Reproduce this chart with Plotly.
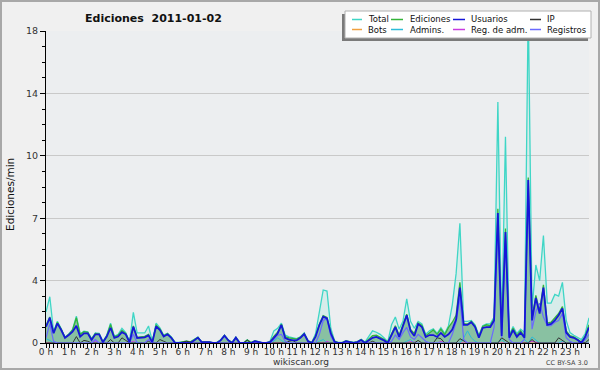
import pandas as pd
import plotly.graph_objects as go

# ---------------- data (edits per minute, 10-minute buckets, 2011-01-02) ----------------
TIMES = pd.date_range("2011-01-02 00:00", periods=144, freq="10min")

TOTAL = [
    1.80, 2.67, 0.65, 1.25, 0.82, 0.35, 0.52, 0.78, 1.55, 0.52, 0.68, 0.65,
    0.25, 0.58, 0.55, 0.08, 0.45, 1.15, 0.38, 0.50, 0.85, 0.60, 0.08, 1.77,
    0.58, 0.58, 0.58, 0.98, 0.10, 1.15, 0.88, 0.45, 0.56, 0.35, 0.03, 0.03,
    0.06, 0.11, 0.07, 0.19, 0.34, 0.07, 0.07, 0.07, 0.01, 0.03, 0.18, 0.45,
    0.18, 0.03, 0.34, 0.03, 0.01, 0.18, 0.03, 0.13, 0.08, 0.01, 0.01, 0.10,
    0.70, 0.85, 1.15, 0.45, 0.35, 0.30, 0.25, 0.36, 0.58, 0.14, 0.03, 0.55,
    1.71, 3.06, 3.00, 0.85, 0.12, 0.03, 0.03, 0.14, 0.08, 0.03, 0.08, 0.22,
    0.05, 0.40, 0.70, 0.62, 0.50, 0.30, 0.07, 1.05, 1.50, 0.80, 1.25, 2.55,
    1.25, 0.85, 1.25, 1.10, 0.50, 0.70, 0.82, 0.55, 0.88, 0.55, 1.00, 2.20,
    4.00, 6.90, 1.25, 1.25, 1.30, 1.05, 0.45, 1.00, 1.10, 1.10, 1.50, 13.90,
    0.80, 11.90, 0.45, 0.95, 0.55, 0.80, 0.60, 19.50, 2.00, 4.50, 3.60, 6.20,
    2.30, 2.30, 2.80, 2.70, 3.50, 1.30, 0.60, 0.45, 0.30, 0.20, 0.55, 1.45,
]

EDICIONES = [
    1.00, 1.50, 0.60, 1.20, 0.80, 0.32, 0.50, 0.75, 1.46, 0.50, 0.65, 0.62,
    0.22, 0.55, 0.52, 0.06, 0.42, 1.07, 0.35, 0.45, 0.72, 0.55, 0.06, 0.98,
    0.32, 0.34, 0.38, 0.50, 0.06, 1.02, 0.82, 0.42, 0.54, 0.32, 0.02, 0.02,
    0.05, 0.10, 0.06, 0.18, 0.33, 0.06, 0.06, 0.06, 0.00, 0.02, 0.17, 0.44,
    0.17, 0.02, 0.33, 0.02, 0.00, 0.17, 0.02, 0.12, 0.07, 0.00, 0.00, 0.08,
    0.38, 0.62, 1.08, 0.35, 0.30, 0.28, 0.22, 0.34, 0.55, 0.12, 0.02, 0.42,
    1.10, 1.58, 1.48, 0.62, 0.10, 0.02, 0.02, 0.12, 0.07, 0.02, 0.07, 0.20,
    0.02, 0.25, 0.42, 0.45, 0.34, 0.22, 0.05, 0.58, 1.00, 0.45, 1.08, 1.66,
    0.78, 0.55, 1.15, 1.02, 0.42, 0.60, 0.75, 0.50, 0.80, 0.48, 0.90, 1.20,
    1.60, 3.50, 1.12, 1.10, 1.25, 0.98, 0.38, 0.95, 1.05, 1.00, 1.40, 7.75,
    0.50, 6.60, 0.38, 0.85, 0.45, 0.70, 0.40, 9.55, 1.45, 2.75, 1.85, 3.35,
    1.15, 1.20, 1.42, 1.70, 2.10, 0.70, 0.42, 0.36, 0.22, 0.05, 0.40, 1.05,
]

USUARIOS = [
    0.94, 1.46, 0.56, 1.13, 0.75, 0.29, 0.46, 0.65, 0.99, 0.37, 0.56, 0.56,
    0.17, 0.50, 0.50, 0.04, 0.37, 0.88, 0.29, 0.37, 0.62, 0.50, 0.04, 0.94,
    0.29, 0.29, 0.33, 0.44, 0.04, 0.96, 0.75, 0.37, 0.50, 0.29, 0.00, 0.00,
    0.00, 0.00, 0.00, 0.15, 0.31, 0.05, 0.05, 0.05, 0.00, 0.00, 0.15, 0.42,
    0.15, 0.00, 0.31, 0.00, 0.00, 0.00, 0.00, 0.10, 0.05, 0.00, 0.00, 0.05,
    0.30, 0.55, 1.04, 0.29, 0.20, 0.15, 0.15, 0.30, 0.52, 0.10, 0.00, 0.37,
    1.04, 1.52, 1.42, 0.56, 0.07, 0.00, 0.00, 0.10, 0.05, 0.00, 0.05, 0.17,
    0.00, 0.15, 0.30, 0.35, 0.25, 0.15, 0.00, 0.50, 0.92, 0.35, 1.00, 1.60,
    0.70, 0.40, 1.10, 0.92, 0.35, 0.46, 0.46, 0.35, 0.58, 0.35, 0.50, 0.77,
    1.35, 3.20, 1.04, 1.04, 1.20, 0.92, 0.30, 0.87, 0.92, 0.92, 1.30, 7.50,
    0.40, 6.40, 0.30, 0.75, 0.35, 0.60, 0.30, 9.40, 1.30, 2.60, 1.70, 3.20,
    1.04, 1.10, 1.30, 1.60, 2.00, 0.60, 0.35, 0.30, 0.17, 0.00, 0.35, 0.90,
]

IP = [
    0, 0, 0, 0, 0, 0, 0, 0, 0.37, 0, 0.15, 0.10,
    0, 0, 0, 0, 0, 0.20, 0, 0, 0.30, 0.15, 0, 0,
    0, 0, 0, 0.10, 0, 0, 0.20, 0.10, 0, 0, 0, 0,
    0.05, 0.10, 0.05, 0, 0, 0, 0, 0, 0, 0, 0, 0,
    0, 0, 0, 0, 0, 0.17, 0, 0, 0, 0, 0, 0,
    0, 0, 0, 0, 0.10, 0.15, 0, 0, 0, 0, 0, 0,
    0, 0, 0, 0, 0, 0, 0, 0, 0, 0, 0, 0,
    0, 0, 0.10, 0, 0, 0, 0, 0, 0, 0, 0, 0,
    0, 0, 0.15, 0, 0, 0, 0, 0.30, 0.25, 0, 0, 0,
    0, 0.25, 0.10, 0, 0, 0, 0, 0, 0, 0, 0, 0,
    0.30, 0.15, 0, 0, 0, 0, 0, 0, 0.20, 0, 0, 0,
    0, 0, 0, 0.30, 0.15, 0, 0, 0, 0, 0.10, 0, 0.20,
]

BOTS = [
    0, 0, 0, 0, 0, 0, 0, 0, 0, 0, 0, 0,
    0, 0, 0, 0, 0, 0, 0, 0, 0, 0, 0, 0,
    0, 0, 0, 0, 0, 0, 0, 0, 0, 0, 0, 0,
    0, 0, 0, 0, 0, 0, 0, 0, 0, 0, 0, 0,
    0, 0, 0, 0, 0, 0, 0, 0, 0, 0, 0, 0,
    0, 0, 0, 0, 0, 0, 0, 0, 0, 0, 0, 0,
    0, 0, 0, 0, 0, 0, 0, 0, 0, 0, 0, 0,
    0, 0, 0, 0, 0, 0, 0, 0, 0, 0, 0, 0,
    0, 0, 0, 0, 0, 0, 0, 0, 0, 0, 0, 0,
    0, 0, 0, 0, 0, 0, 0, 0, 0, 0, 0, 0,
    0, 0, 0, 0, 0, 0, 0, 0, 0, 0, 0, 0,
    0, 0, 0, 0, 0, 0, 0, 0, 0, 0, 0, 0,
]

ADMINS = [
    0.25, 0.15, 0, 0, 0, 0, 0, 0, 0, 0, 0, 0,
    0, 0, 0, 0, 0, 0, 0, 0, 0, 0, 0, 0,
    0.05, 0, 0, 0, 0, 0, 0, 0, 0, 0, 0, 0,
    0, 0, 0, 0, 0, 0, 0, 0, 0, 0, 0, 0,
    0, 0, 0, 0, 0, 0, 0, 0, 0, 0, 0, 0,
    0.10, 0.30, 0.15, 0, 0, 0, 0, 0, 0, 0, 0, 0,
    0.10, 0.20, 0, 0, 0, 0, 0, 0, 0, 0, 0, 0,
    0, 0, 0, 0, 0, 0, 0, 0, 0, 0, 0, 0.10,
    0.20, 0, 0, 0, 0, 0, 0, 0, 0, 0, 0, 0,
    0, 0, 0.30, 0.70, 0.30, 0.10, 0, 0, 0, 0, 0, 0,
    0.20, 0, 0, 0, 0, 0, 0.20, 0, 0.35, 0.20, 0, 0,
    0, 0, 0, 0, 0.10, 0, 0, 0, 0, 0, 0, 0,
]

REG_ADM = [
    0, 0, 0, 0, 0, 0, 0, 0, 0, 0, 0, 0,
    0, 0.10, 0, 0, 0, 0, 0, 0, 0, 0, 0, 0.10,
    0, 0, 0, 0.20, 0.05, 0, 0, 0, 0, 0, 0, 0,
    0, 0, 0, 0, 0, 0, 0, 0, 0, 0, 0, 0,
    0, 0, 0, 0, 0, 0, 0, 0, 0, 0, 0, 0,
    0, 0, 0, 0, 0, 0, 0, 0, 0, 0, 0, 0,
    0, 0, 0.10, 0, 0, 0, 0, 0, 0, 0, 0, 0,
    0, 0, 0, 0, 0, 0, 0, 0, 0, 0, 0, 0,
    0.10, 0.05, 0, 0, 0, 0, 0, 0, 0.10, 0, 0, 0,
    0, 0, 0, 0, 0, 0, 0, 0, 0, 0, 0, 0,
    0, 0, 0, 0, 0, 0, 0, 0, 0.10, 0.05, 0, 0,
    0, 0, 0, 0, 0, 0, 0, 0, 0, 0, 0, 0,
]

REGISTROS = [
    0.30, 1.10, 0.10, 0, 0, 0, 0, 0, 0, 0, 0, 0,
    0, 0.20, 0, 0, 0, 0, 0, 0, 0, 0, 0, 0.50,
    0, 0, 0, 0.20, 0, 0, 0, 0, 0, 0, 0, 0,
    0, 0, 0, 0, 0, 0, 0, 0, 0, 0, 0, 0,
    0, 0, 0, 0, 0, 0, 0, 0, 0, 0, 0, 0,
    0.20, 0.45, 0.50, 0.10, 0, 0, 0, 0, 0, 0, 0, 0,
    0.50, 1.30, 1.40, 0.40, 0, 0, 0, 0, 0, 0, 0, 0,
    0, 0, 0, 0, 0, 0, 0, 0.10, 0.46, 0.20, 0.60, 0.90,
    0.35, 0.20, 0.50, 0.30, 0.10, 0, 0, 0, 0, 0, 0, 0.50,
    1.20, 2.60, 0.20, 0, 0, 0, 0, 0, 0, 0, 0.90, 6.80,
    0.30, 5.80, 0.20, 0, 0, 0, 0.20, 8.90, 0.80, 1.80, 2.30, 1.50,
    1.00, 1.00, 1.20, 1.30, 1.70, 0.30, 0.10, 0, 0, 0, 0.20, 0.50,
]

HOUR_TICKS = pd.date_range("2011-01-02 00:00", periods=24, freq="1h")
HOUR_LABELS = ["0 h", "1 h", "2 h", "3 h", "4 h", "5 h", "6 h", "7 h", "8 h", "9 h",
               "10 h", "11 h", "12 h", "13 h", "14 h", "15 h", "16 h", "17 h", "18 h",
               "19 h", "20 h", "21 h", "22 h", "23 h"]
Y_TICKS = [0, 3.6, 7.2, 10.8, 14.4, 18]
Y_LABELS = ["0", "4", "7", "10", "14", "18"]

SERIES_NAMES = ["Total", "Ediciones", "Usuarios", "IP", "Bots", "Admins.", "Reg. de adm.", "Registros"]
COLORS = {
    "Total": "#3fd6c6", "Ediciones": "#35b43a", "Usuarios": "#1616d8", "IP": "#333333",
    "Bots": "#f0a040", "Admins.": "#2cbcd8", "Reg. de adm.": "#c83ce0", "Registros": "#6a6aff",
}

# ---------------- figure ----------------
W, H = 600, 370
L, R, T, B = 46, 11, 31, 27
PW, PH = W - L - R, H - T - B

FONT = "DejaVu Sans"
fig = go.Figure()

fig.add_trace(go.Scatter(x=TIMES, y=TOTAL, name="Total", mode="lines", fill="tozeroy",
                         line=dict(color=COLORS["Total"], width=1.3),
                         fillcolor="rgba(120,225,210,0.18)", showlegend=False))
fig.add_trace(go.Scatter(x=TIMES, y=EDICIONES, name="Ediciones", mode="lines", fill="tozeroy",
                         line=dict(color=COLORS["Ediciones"], width=1.3),
                         fillcolor="rgba(60,150,90,0.5)", showlegend=False))
for name, vals, w in [("Bots", BOTS, 1), ("Reg. de adm.", REG_ADM, 1), ("Admins.", ADMINS, 1),
                      ("IP", IP, 1), ("Registros", REGISTROS, 1.2), ("Usuarios", USUARIOS, 1.8)]:
    fig.add_trace(go.Scatter(x=TIMES, y=vals, name=name, mode="lines",
                             line=dict(color=COLORS[name], width=w), showlegend=False))


def px_x(px):
    return (px - L) / PW


def px_y(py):
    return (H - B - py) / PH


shapes = [
    # outer frame
    dict(type="rect", xref="paper", yref="paper", x0=px_x(1), x1=px_x(W - 1), y0=px_y(H - 1), y1=px_y(1),
         line=dict(color="#a8a8a8", width=2), fillcolor="rgba(0,0,0,0)", layer="below"),
    # legend shadow and box
    dict(type="rect", xref="paper", yref="paper", x0=px_x(342), x1=px_x(588), y0=px_y(41), y1=px_y(14),
         line=dict(width=0), fillcolor="#7a7a7a", layer="above"),
    dict(type="rect", xref="paper", yref="paper", x0=px_x(345), x1=px_x(591), y0=px_y(38), y1=px_y(11),
         line=dict(color="#b0b0b0", width=1), fillcolor="#ffffff", layer="above"),
]
annotations = []
col_sym = [(352, 362), (391, 403), (453, 465), (530, 541)]
col_txt = [366, 408, 469, 545]
row_y = [19.5, 29.5]
for k, name in enumerate(SERIES_NAMES):
    r, c = divmod(k, 4)
    shapes.append(dict(type="line", xref="paper", yref="paper",
                       x0=px_x(col_sym[c][0]), x1=px_x(col_sym[c][1]),
                       y0=px_y(row_y[r]), y1=px_y(row_y[r]),
                       line=dict(color=COLORS[name], width=1.5), layer="above"))
    annotations.append(dict(text=name, xref="paper", yref="paper", x=px_x(col_txt[c]), y=px_y(row_y[r]),
                            xanchor="left", yanchor="middle", showarrow=False,
                            font=dict(family=FONT, size=8.5, color="#111111")))

annotations += [
    dict(text="wikiscan.org", xref="paper", yref="paper", x=px_x(300.5), y=px_y(362),
         xanchor="center", yanchor="middle", showarrow=False,
         font=dict(family=FONT, size=9, color="#333333")),
    dict(text="CC BY-SA 3.0", xref="paper", yref="paper", x=px_x(590), y=px_y(362.5),
         xanchor="right", yanchor="middle", showarrow=False,
         font=dict(family=FONT, size=6.5, color="#444444")),
    dict(text="Ediciones/min", xref="paper", yref="paper", x=px_x(10), y=px_y(195),
         xanchor="center", yanchor="middle", textangle=-90, showarrow=False,
         font=dict(family=FONT, size=10.5, color="#111111")),
]

fig.update_layout(
    width=W, height=H,
    margin=dict(l=L, r=R, t=T, b=B, pad=0, autoexpand=False),
    paper_bgcolor="#f0f0f0",
    plot_bgcolor="#eceef0",
    showlegend=False,
    title=dict(text="<b>Ediciones\u00a0 2011-01-02</b>", xref="container", yref="container",
               x=85 / W, xanchor="left", y=1 - 18 / H, yanchor="middle",
               font=dict(family=FONT, size=11, color="#111111")),
    shapes=shapes,
    annotations=annotations,
)

fig.update_xaxes(
    type="date",
    range=[TIMES[0], TIMES[-1]],
    tickvals=HOUR_TICKS, ticktext=HOUR_LABELS,
    tickangle=0, automargin=False,
    ticks="outside", ticklen=4, tickcolor="#000000", tickwidth=1,
    ticklabelstandoff=-4,
    minor=dict(dtick=600000, tick0="2011-01-02 00:00", ticks="outside", ticklen=4,
               tickcolor="#000000", showgrid=False),
    showline=True, linecolor="#000000", linewidth=1,
    showgrid=False, zeroline=False,
    tickfont=dict(family=FONT, size=9, color="#333333"),
    fixedrange=True,
)
fig.update_yaxes(
    range=[0, 18],
    tickvals=Y_TICKS, ticktext=Y_LABELS,
    automargin=False,
    ticks="outside", ticklen=5, tickcolor="#000000", tickwidth=1,
    minor=dict(dtick=0.9, tick0=0, ticks="outside", ticklen=3, tickcolor="#000000", showgrid=False),
    showline=True, linecolor="#000000", linewidth=1,
    showgrid=True, gridcolor="#c9c9c9", gridwidth=1,
    zeroline=False,
    tickfont=dict(family=FONT, size=9.5, color="#333333"),
    fixedrange=True,
)

fig.write_html("out.html", config={"displayModeBar": False},
               post_script="document.body.style.margin='0';document.body.style.overflow='hidden';")
